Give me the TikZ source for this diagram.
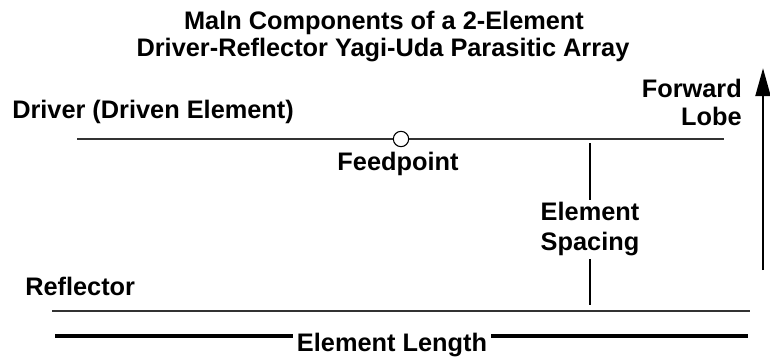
\documentclass[tikz,border=0pt]{standalone}
\usepackage{fontspec}
\setmainfont{Liberation Sans}
\usetikzlibrary{arrows.meta}
\begin{document}
\begin{tikzpicture}[x=0.75pt,y=-0.75pt,
  lbl/.style={font=\fontsize{19}{23}\selectfont\bfseries, inner sep=0pt},
  elem/.style={line width=1.5pt, draw=black!80},
  dimline/.style={line width=2.4pt, draw=black},
  spaceline/.style={line width=2.1pt, draw=black},
  ]
\useasboundingbox (0,0) rectangle (770,360);
% title
\node[lbl, anchor=base] (t1) at (384,30) {Maln Components of a 2-Element};
\node[lbl, anchor=base] (t2) at (383,57) {Driver-Reflector Yagi-Uda Parasitic Array};
% driver
\node[lbl, anchor=base west] (drv) at (12,118) {Driver (Driven Element)};
\coordinate (dL) at (77,139);
\coordinate (dR) at (724,139);
\draw[elem] (dL) -- (dR);
\node[circle, draw=black, fill=white, line width=0.8pt, inner sep=0pt, minimum size=11.5pt] (feed) at (401,139) {};
\node[lbl, anchor=base] (fp) at (398,170) {Feedpoint};
% forward lobe
\node[lbl, anchor=base east] (fwd) at (742,97) {Forward};
\node[lbl, anchor=base east] (lobe) at (742,125) {Lobe};
\coordinate (aB) at (763,270);
\coordinate (aT) at (763,68);
\draw[line width=2.2pt, -{Triangle[length=21pt,width=11pt]}] (aB) -- (aT);
% element spacing
\node[lbl, anchor=base, inner sep=1.2pt] (es1) at (590,220) {Element};
\node[lbl, anchor=base, inner sep=2.5pt] (es2) at (590,250) {Spacing};
\coordinate (sTop) at (590,143);
\coordinate (sBot) at (590,305);
\draw[spaceline] (sTop) -- (es1);
\draw[spaceline] (es2) -- (sBot);
% reflector
\node[lbl, anchor=base west] (rfl) at (25,295) {Reflector};
\coordinate (rL) at (52,311);
\coordinate (rR) at (750,311);
\draw[elem] (rL) -- (rR);
% element length
\node[lbl, anchor=base, inner sep=3pt] (el) at (392,351) {Element Length};
\coordinate (eL) at (55,336);
\coordinate (eR) at (748,336);
\draw[dimline] (eL) -- (el.west |- eL);
\draw[dimline] (el.east |- eR) -- (eR);
\end{tikzpicture}
\end{document}
